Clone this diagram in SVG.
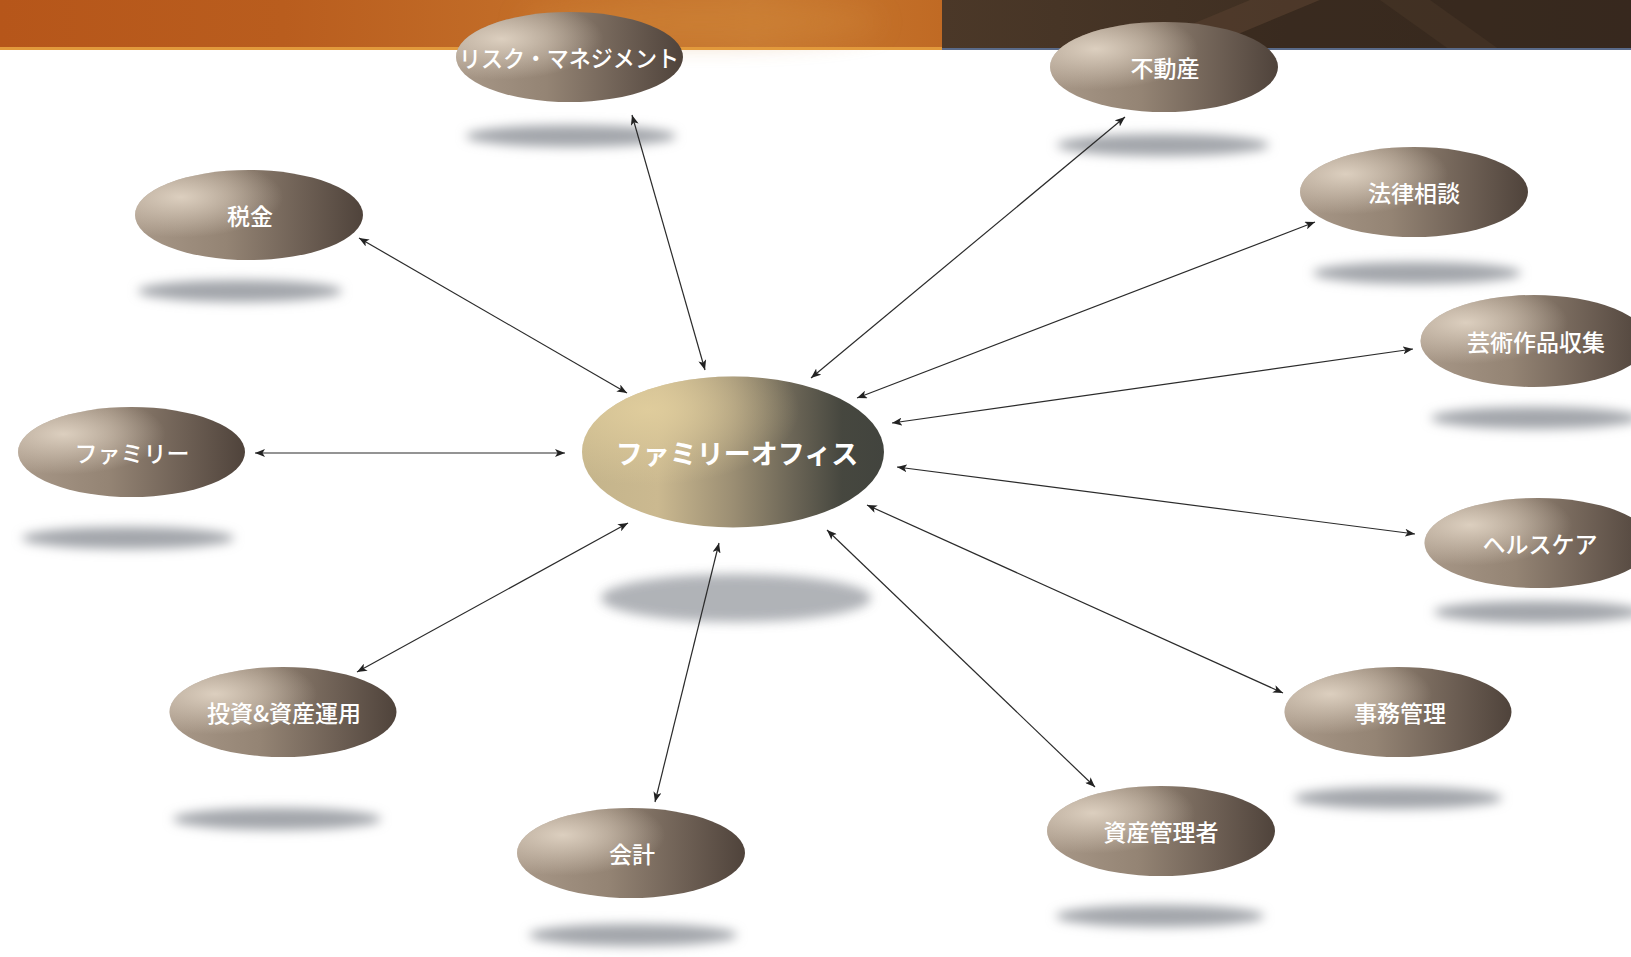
<svg xmlns="http://www.w3.org/2000/svg" width="1631" height="957" viewBox="0 0 1631 957">
<style>
.lbl{font-family:"Noto Sans CJK JP","Noto Sans CJK SC",sans-serif;font-size:23px;font-weight:500;fill:#ffffff;text-anchor:middle;dominant-baseline:central}
.big{font-size:27px;font-weight:700}
.node{fill:url(#gNode)}
.hl{fill:url(#gHl)}
.shadow{fill:#a3a6ab;filter:url(#blur)}
.conn line{stroke:#2b2b2b;stroke-width:1.2;marker-start:url(#ah);marker-end:url(#ah)}
</style>
<defs>
<linearGradient id="gNode" x1="0" y1="0" x2="1" y2="0">
<stop offset="0" stop-color="#a89888"/>
<stop offset="0.4" stop-color="#948474"/>
<stop offset="0.75" stop-color="#6c5e53"/>
<stop offset="1" stop-color="#4f433b"/>
</linearGradient>
<radialGradient id="gHl" cx="0.2" cy="0.3" r="0.45" fx="0.2" fy="0.3">
<stop offset="0" stop-color="#dccfbf" stop-opacity="1"/>
<stop offset="1" stop-color="#dccfbf" stop-opacity="0"/>
</radialGradient>
<linearGradient id="gCenter" x1="0" y1="0" x2="1" y2="0">
<stop offset="0" stop-color="#c4b48b"/>
<stop offset="0.25" stop-color="#cbb990"/>
<stop offset="0.5" stop-color="#9b8e73"/>
<stop offset="0.7" stop-color="#6b6556"/>
<stop offset="0.86" stop-color="#46473f"/>
<stop offset="1" stop-color="#42443e"/>
</linearGradient>
<radialGradient id="gCenterHl" cx="0.22" cy="0.22" r="0.5" fx="0.22" fy="0.22">
<stop offset="0" stop-color="#dfcc9c" stop-opacity="1"/>
<stop offset="1" stop-color="#dfcc9c" stop-opacity="0"/>
</radialGradient>
<linearGradient id="gOrange" x1="0" y1="0" x2="1" y2="0">
<stop offset="0" stop-color="#b6561a"/>
<stop offset="0.3" stop-color="#b95d1e"/>
<stop offset="0.6" stop-color="#c4702a"/>
<stop offset="0.8" stop-color="#c87a32"/>
<stop offset="1" stop-color="#c06a24"/>
</linearGradient>
<linearGradient id="gBrown" x1="0" y1="0" x2="1" y2="0">
<stop offset="0" stop-color="#4b3828"/>
<stop offset="0.5" stop-color="#3f2f22"/>
<stop offset="1" stop-color="#3a2b20"/>
</linearGradient>
<filter id="blur" x="-20%" y="-100%" width="140%" height="300%">
<feGaussianBlur stdDeviation="5.5"/>
</filter>
<filter id="blur2" x="-30%" y="-150%" width="160%" height="400%">
<feGaussianBlur stdDeviation="13"/>
</filter>
<marker id="ah" markerUnits="userSpaceOnUse" markerWidth="11" markerHeight="8" refX="10" refY="4" orient="auto-start-reverse">
<path d="M0,0 L10,4 L0,8 L2.5,4 z" fill="#222"/>
</marker>
</defs>

<g id="banner">
<rect x="0" y="0" width="942" height="50" fill="url(#gOrange)"/>
<ellipse cx="700" cy="22" rx="180" ry="18" fill="#cf8538" opacity="0.5" filter="url(#blur2)"/>
<rect x="0" y="47" width="942" height="3" fill="#e29a3c"/>
<rect x="942" y="0" width="689" height="50" fill="url(#gBrown)"/>
<polygon points="1130,50 1250,0 1320,0 1200,50" fill="#56402e" opacity="0.6"/>
<polygon points="1200,50 1320,0 1631,0 1631,50" fill="#33251b" opacity="0.5"/>
<polygon points="1380,0 1450,50 1500,50 1430,0" fill="#4a3727" opacity="0.5"/>
<rect x="942" y="48" width="689" height="2" fill="#5a6b8a"/>
</g>

<g id="node-center">
<ellipse class="shadow" cx="736" cy="598" rx="135" ry="24" filter="url(#blur2)" opacity="0.85"/>
<ellipse cx="733" cy="452" rx="151" ry="75.5" fill="url(#gCenter)"/>
<ellipse cx="733" cy="452" rx="151" ry="75.5" fill="url(#gCenterHl)"/>
<text class="lbl big" x="737" y="452">ファミリーオフィス</text>
</g>
<g id="node-risk">
<ellipse class="shadow" cx="571" cy="136" rx="105" ry="11"/>
<ellipse class="node" cx="569.5" cy="57" rx="113.5" ry="45"/>
<ellipse class="hl" cx="569.5" cy="57" rx="113.5" ry="45"/>
<text class="lbl" x="569" y="57" textLength="220" lengthAdjust="spacingAndGlyphs">リスク・マネジメント</text>
</g>
<g id="node-tax">
<ellipse class="shadow" cx="240" cy="291" rx="102" ry="11"/>
<ellipse class="node" cx="249" cy="215" rx="114" ry="45"/>
<ellipse class="hl" cx="249" cy="215" rx="114" ry="45"/>
<text class="lbl" x="250" y="215">税金</text>
</g>
<g id="node-family">
<ellipse class="shadow" cx="128" cy="538" rx="106" ry="11"/>
<ellipse class="node" cx="131.5" cy="452" rx="113.5" ry="45"/>
<ellipse class="hl" cx="131.5" cy="452" rx="113.5" ry="45"/>
<text class="lbl" x="132" y="452">ファミリー</text>
</g>
<g id="node-invest">
<ellipse class="shadow" cx="277" cy="819" rx="104" ry="11"/>
<ellipse class="node" cx="283" cy="712" rx="113.5" ry="45"/>
<ellipse class="hl" cx="283" cy="712" rx="113.5" ry="45"/>
<text class="lbl" x="284" y="712">投資&amp;資産運用</text>
</g>
<g id="node-accounting">
<ellipse class="shadow" cx="633" cy="935" rx="104" ry="11"/>
<ellipse class="node" cx="631" cy="853" rx="114" ry="45"/>
<ellipse class="hl" cx="631" cy="853" rx="114" ry="45"/>
<text class="lbl" x="632" y="853">会計</text>
</g>
<g id="node-realestate">
<ellipse class="shadow" cx="1163" cy="145" rx="106" ry="11"/>
<ellipse class="node" cx="1164" cy="67" rx="114" ry="45"/>
<ellipse class="hl" cx="1164" cy="67" rx="114" ry="45"/>
<text class="lbl" x="1165" y="67">不動産</text>
</g>
<g id="node-legal">
<ellipse class="shadow" cx="1417" cy="273" rx="104" ry="11"/>
<ellipse class="node" cx="1414" cy="192" rx="114" ry="45"/>
<ellipse class="hl" cx="1414" cy="192" rx="114" ry="45"/>
<text class="lbl" x="1414" y="192">法律相談</text>
</g>
<g id="node-art">
<ellipse class="shadow" cx="1535" cy="418" rx="104" ry="11"/>
<ellipse class="node" cx="1534" cy="341" rx="113.5" ry="46"/>
<ellipse class="hl" cx="1534" cy="341" rx="113.5" ry="46"/>
<text class="lbl" x="1536" y="341">芸術作品収集</text>
</g>
<g id="node-health">
<ellipse class="shadow" cx="1538" cy="612" rx="104" ry="11"/>
<ellipse class="node" cx="1538" cy="543" rx="113.5" ry="45"/>
<ellipse class="hl" cx="1538" cy="543" rx="113.5" ry="45"/>
<text class="lbl" x="1540" y="543">ヘルスケア</text>
</g>
<g id="node-admin">
<ellipse class="shadow" cx="1398" cy="798" rx="104" ry="11"/>
<ellipse class="node" cx="1398" cy="712" rx="113.5" ry="45"/>
<ellipse class="hl" cx="1398" cy="712" rx="113.5" ry="45"/>
<text class="lbl" x="1400" y="712">事務管理</text>
</g>
<g id="node-assetmgr">
<ellipse class="shadow" cx="1160" cy="916" rx="104" ry="11"/>
<ellipse class="node" cx="1161" cy="831" rx="114" ry="45"/>
<ellipse class="hl" cx="1161" cy="831" rx="114" ry="45"/>
<text class="lbl" x="1161" y="831">資産管理者</text>
</g>

<g id="connectors" class="conn">
<line x1="632" y1="115" x2="705" y2="370"/>
<line x1="359" y1="238" x2="627" y2="393"/>
<line x1="255" y1="453" x2="565" y2="453"/>
<line x1="357" y1="672" x2="628" y2="523"/>
<line x1="655" y1="802" x2="719" y2="543"/>
<line x1="1125" y1="117" x2="811" y2="378"/>
<line x1="1315" y1="222" x2="857" y2="398"/>
<line x1="1413" y1="349" x2="892" y2="423"/>
<line x1="1415" y1="534" x2="897" y2="467"/>
<line x1="1283" y1="693" x2="867" y2="505"/>
<line x1="1095" y1="787" x2="827" y2="530"/>
</g>
</svg>
